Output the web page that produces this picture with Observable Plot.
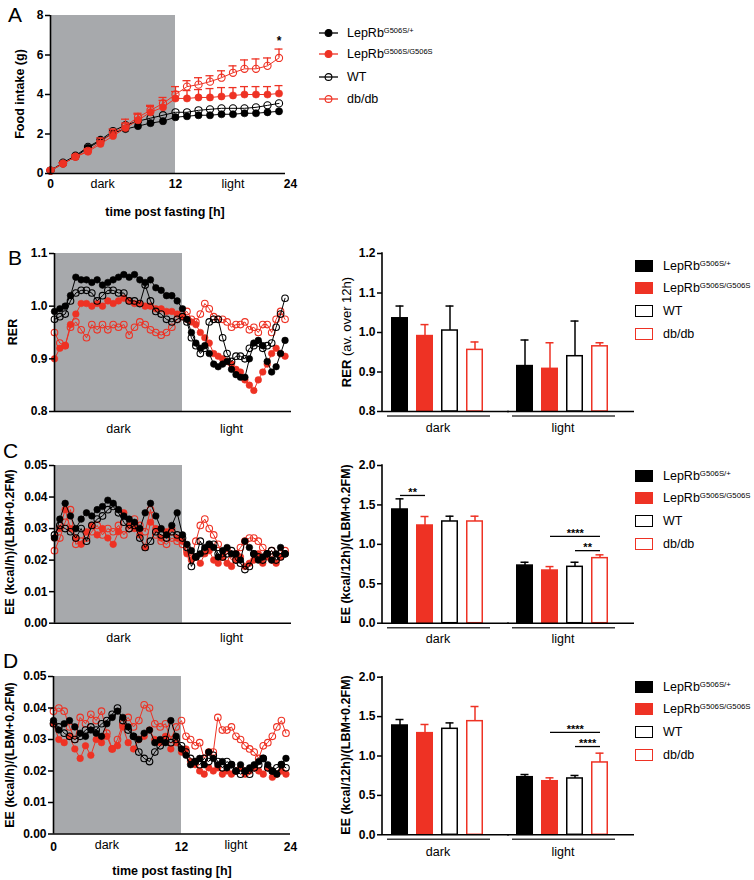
<!DOCTYPE html>
<html>
<head>
<meta charset="utf-8">
<script src="https://cdn.jsdelivr.net/npm/d3@7"></script>
<script src="https://cdn.jsdelivr.net/npm/@observablehq/plot@0.6"></script>
<style>
  body { margin: 0; background: #fff; font-family: "Liberation Sans", Arial, Helvetica, sans-serif; }
  #fig { position: relative; width: 754px; height: 880px; overflow: hidden; background: #fff; }
  .letter { position: absolute; font-size: 21px; line-height: 21px; color: #000; }
  .leg { position: absolute; display: flex; align-items: center; height: 14px; white-space: nowrap; color: #000; }
  .sw { display: inline-block; width: 18px; height: 12px; box-sizing: border-box; margin-right: 10px; }
  .sup { position: relative; top: -4px; }
</style>
</head>
<body>
<div id="fig"></div>
<script>
// ---------------- DATA ----------------
const genotypes = ["het", "hom", "wt", "db"];
const genotypeNames = ["LepRb", "LepRb", "WT", "db/db"];
const genotypeSups = ["G506S/+", "G506S/G506S", "", ""];
const phases = ["dark", "light"];
const darkPhase = [0, 12];
const timeTicks = [0, 12, 24];

// Panel A: cumulative food intake (g)
const foodTime = [0, 1.2, 2.4, 3.6, 4.8, 6, 7.2, 8.4, 9.6, 10.8, 12, 13.2, 14.4, 15.6, 16.8, 18, 19.2, 20.4, 21.6, 22.8];
const foodHet = [0.15, 0.5, 0.85, 1.3, 1.65, 2.05, 2.25, 2.4, 2.55, 2.65, 2.85, 2.9, 2.95, 2.95, 3.0, 3.0, 3.05, 3.05, 3.1, 3.15];
const foodHom = [0.15, 0.5, 0.85, 1.1, 1.5, 1.9, 2.3, 2.7, 3.1, 3.35, 3.8, 3.8, 3.85, 3.85, 3.9, 3.95, 4.0, 4.0, 4.0, 4.05];
const foodWT = [0.15, 0.55, 0.9, 1.35, 1.7, 2.15, 2.45, 2.65, 2.8, 2.95, 3.1, 3.1, 3.2, 3.25, 3.3, 3.3, 3.3, 3.35, 3.45, 3.55];
const foodDb = [0.15, 0.5, 0.85, 1.15, 1.6, 2.05, 2.4, 2.85, 3.2, 3.55, 4.0, 4.4, 4.5, 4.65, 4.85, 5.1, 5.3, 5.3, 5.45, 5.85];
const foodHomErr = [0.05, 0.05, 0.08, 0.1, 0.15, 0.2, 0.25, 0.3, 0.3, 0.35, 0.35, 0.4, 0.4, 0.45, 0.45, 0.4, 0.4, 0.4, 0.4, 0.4];
const foodDbErr = [0.05, 0.05, 0.08, 0.1, 0.2, 0.2, 0.35, 0.2, 0.25, 0.3, 0.4, 0.3, 0.35, 0.3, 0.35, 0.35, 0.45, 0.5, 0.4, 0.45];
const foodSig = [{t: 22.8, y: 6.8, label: "*"}];

// Time axis for panels B-D (h)
const tsTime = [0, 0.5, 1, 1.5, 2, 2.5, 3, 3.5, 4, 4.5, 5, 5.5,
  6, 6.5, 7, 7.5, 8, 8.5, 9, 9.5, 10, 10.5, 11, 11.5,
  12, 12.5, 13, 13.5, 14, 14.5, 15, 15.5, 16, 16.5, 17, 17.5,
  18, 18.5, 19, 19.5, 20, 20.5, 21, 21.5, 22, 22.5, 23, 23.5];

// Panel B: RER
const rerHet = [0.99, 0.995, 1.00, 1.02, 1.055, 1.05, 1.05, 1.045, 1.05, 1.04, 1.045, 1.05,
  1.055, 1.06, 1.055, 1.06, 1.05, 1.045, 1.05, 1.035, 1.03, 1.02, 1.02, 1.01,
  0.995, 0.975, 0.95, 0.93, 0.92, 0.925, 0.91, 0.89, 0.885, 0.89, 0.895, 0.88,
  0.87, 0.865, 0.865, 0.90, 0.93, 0.935, 0.925, 0.895, 0.875, 0.885, 0.91, 0.935];
const rerHom = [0.90, 0.92, 0.925, 0.965, 0.985, 1.005, 1.005, 1.00, 1.005, 1.00, 1.01, 1.005,
  1.01, 1.015, 1.01, 1.005, 1.005, 1.00, 1.00, 0.995, 0.995, 0.99, 0.99, 0.985,
  0.98, 0.975, 0.97, 0.965, 0.95, 0.94, 0.93, 0.91, 0.905, 0.90, 0.895, 0.89,
  0.88, 0.875, 0.86, 0.85, 0.84, 0.86, 0.875, 0.89, 0.91, 0.92, 0.91, 0.905];
const rerWT = [0.975, 0.98, 0.985, 1.01, 1.025, 1.03, 1.03, 1.025, 1.01, 1.02, 1.03, 1.03,
  1.025, 1.025, 1.01, 1.01, 1.005, 1.04, 1.01, 0.99, 0.985, 0.975, 0.97, 0.975,
  0.98, 0.97, 0.94, 0.925, 0.91, 0.92, 0.97, 0.975, 0.975, 0.94, 0.91, 0.895,
  0.905, 0.905, 0.90, 0.92, 0.925, 0.93, 0.92, 0.925, 0.93, 0.96, 0.985, 1.015];
const rerDb = [0.95, 0.93, 0.925, 0.96, 0.97, 0.955, 0.94, 0.965, 0.955, 0.965, 0.955, 0.965,
  0.96, 0.965, 0.945, 0.96, 0.97, 0.965, 0.955, 0.95, 0.945, 0.95, 0.96, 0.975,
  0.985, 0.99, 0.975, 0.97, 0.985, 1.005, 0.995, 0.98, 0.975, 0.975, 0.97, 0.96,
  0.965, 0.965, 0.97, 0.955, 0.96, 0.95, 0.965, 0.965, 0.95, 0.975, 0.99, 0.975];

// Panel C: EE (kcal/h)/(LBM+0.2FM)
const eeCHet = [0.027, 0.033, 0.038, 0.034, 0.030, 0.033, 0.035, 0.034, 0.036, 0.037, 0.039, 0.038,
  0.036, 0.034, 0.033, 0.032, 0.030, 0.035, 0.038, 0.034, 0.030, 0.028, 0.031, 0.035,
  0.028, 0.025, 0.023, 0.021, 0.022, 0.024, 0.025, 0.024, 0.021, 0.023, 0.024, 0.022,
  0.022, 0.020, 0.026, 0.024, 0.022, 0.020, 0.021, 0.022, 0.020, 0.022, 0.024, 0.022];
const eeCHom = [0.027, 0.030, 0.036, 0.030, 0.027, 0.025, 0.029, 0.031, 0.028, 0.030, 0.027, 0.025,
  0.029, 0.035, 0.031, 0.030, 0.028, 0.024, 0.032, 0.030, 0.027, 0.029, 0.030, 0.027,
  0.026, 0.022, 0.020, 0.021, 0.019, 0.022, 0.023, 0.020, 0.019, 0.021, 0.019, 0.018,
  0.020, 0.021, 0.018, 0.019, 0.020, 0.022, 0.019, 0.021, 0.020, 0.019, 0.021, 0.022];
const eeCWT = [0.028, 0.031, 0.030, 0.029, 0.027, 0.030, 0.026, 0.031, 0.033, 0.034, 0.036, 0.037,
  0.035, 0.032, 0.030, 0.031, 0.027, 0.024, 0.026, 0.029, 0.028, 0.027, 0.029, 0.028,
  0.027, 0.024, 0.018, 0.021, 0.026, 0.023, 0.025, 0.025, 0.022, 0.021, 0.022, 0.023,
  0.020, 0.019, 0.017, 0.018, 0.022, 0.021, 0.020, 0.022, 0.023, 0.020, 0.021, 0.022];
const eeCDb = [0.023, 0.027, 0.032, 0.036, 0.025, 0.026, 0.027, 0.029, 0.031, 0.028, 0.030, 0.029,
  0.031, 0.028, 0.030, 0.033, 0.031, 0.029, 0.036, 0.028, 0.026, 0.025, 0.027, 0.026,
  0.025, 0.023, 0.021, 0.026, 0.031, 0.033, 0.030, 0.028, 0.025, 0.021, 0.023, 0.020,
  0.022, 0.024, 0.026, 0.027, 0.027, 0.026, 0.024, 0.022, 0.023, 0.021, 0.022, 0.023];

// Panel D: EE (kcal/h)/(LBM+0.2FM)
const eeDHet = [0.036, 0.033, 0.035, 0.036, 0.034, 0.032, 0.031, 0.033, 0.032, 0.031, 0.035, 0.037,
  0.039, 0.037, 0.034, 0.031, 0.030, 0.032, 0.033, 0.029, 0.030, 0.029, 0.036, 0.031,
  0.027, 0.025, 0.022, 0.023, 0.024, 0.022, 0.026, 0.024, 0.022, 0.023, 0.021, 0.022,
  0.020, 0.022, 0.020, 0.021, 0.022, 0.023, 0.024, 0.022, 0.020, 0.019, 0.022, 0.024];
const eeDHom = [0.035, 0.030, 0.029, 0.031, 0.027, 0.024, 0.028, 0.025, 0.030, 0.029, 0.031, 0.027,
  0.028, 0.034, 0.029, 0.027, 0.030, 0.031, 0.033, 0.030, 0.029, 0.031, 0.027, 0.029,
  0.026, 0.027, 0.023, 0.022, 0.020, 0.019, 0.021, 0.020, 0.021, 0.019, 0.020, 0.019,
  0.020, 0.021, 0.019, 0.020, 0.021, 0.020, 0.019, 0.021, 0.018, 0.019, 0.020, 0.019];
const eeDWT = [0.035, 0.034, 0.032, 0.031, 0.030, 0.031, 0.033, 0.034, 0.033, 0.035, 0.036, 0.038,
  0.040, 0.036, 0.033, 0.031, 0.026, 0.024, 0.023, 0.026, 0.028, 0.030, 0.029, 0.030,
  0.028, 0.026, 0.024, 0.023, 0.022, 0.024, 0.023, 0.025, 0.023, 0.021, 0.023, 0.022,
  0.020, 0.019, 0.020, 0.019, 0.021, 0.022, 0.024, 0.021, 0.020, 0.021, 0.022, 0.021];
const eeDDb = [0.039, 0.040, 0.039, 0.034, 0.030, 0.037, 0.035, 0.038, 0.036, 0.039, 0.032, 0.027,
  0.030, 0.035, 0.037, 0.034, 0.036, 0.041, 0.040, 0.035, 0.034, 0.035, 0.030, 0.034,
  0.036, 0.031, 0.030, 0.028, 0.029, 0.024, 0.026, 0.026, 0.037, 0.033, 0.033, 0.034,
  0.031, 0.030, 0.028, 0.027, 0.026, 0.024, 0.028, 0.029, 0.031, 0.034, 0.036, 0.032];

// Bar charts (mean, SEM) in genotype order
const rerDarkMean = [1.036, 0.991, 1.005, 0.956];
const rerDarkErr = [0.031, 0.029, 0.062, 0.020];
const rerLightMean = [0.915, 0.908, 0.940, 0.965];
const rerLightErr = [0.066, 0.066, 0.089, 0.009];
const eeCDarkMean = [1.442, 1.239, 1.290, 1.290];
const eeCDarkErr = [0.135, 0.114, 0.067, 0.067];
const eeCLightMean = [0.731, 0.668, 0.715, 0.825];
const eeCLightErr = [0.042, 0.050, 0.058, 0.042];
const eeDDarkMean = [1.387, 1.290, 1.345, 1.442];
const eeDDarkErr = [0.076, 0.110, 0.075, 0.186];
const eeDLightMean = [0.731, 0.680, 0.715, 0.918];
const eeDLightErr = [0.034, 0.043, 0.038, 0.118];
const sigC = [
  {phase: "dark", from: "het", to: "hom", y: 1.62, label: "**"},
  {phase: "light", from: "hom", to: "db", y: 1.10, label: "****"},
  {phase: "light", from: "wt", to: "db", y: 0.92, label: "**"}
];
const sigD = [
  {phase: "light", from: "hom", to: "db", y: 1.30, label: "****"},
  {phase: "light", from: "wt", to: "db", y: 1.12, label: "****"}
];

// ---------------- STYLE ----------------
const FONT = '"Liberation Sans", Arial, Helvetica, sans-serif';
const RED = "#ee3224", BLACK = "#000000", GRAY = "#a7a9ac";
const colors = [BLACK, RED, BLACK, RED];
const filled = [true, true, false, false];
const fig = document.getElementById("fig");

function place(el, left, top) {
  el.style.position = "absolute";
  el.style.left = left + "px";
  el.style.top = top + "px";
  fig.appendChild(el);
}

function svgText(svg, {x, y, text, size = 12.5, weight = "bold", rotate = 0, parts}) {
  const t = d3.select(svg).append("text")
    .attr("transform", `translate(${x},${y}) rotate(${rotate})`)
    .attr("text-anchor", "middle")
    .attr("dominant-baseline", "central")
    .attr("font-family", FONT)
    .attr("font-size", size)
    .attr("font-weight", weight)
    .attr("fill", "#000");
  if (parts) parts.forEach(p => t.append("tspan").attr("font-weight", p.weight).text(p.text));
  else t.text(text);
}

function letter(ch, left, top) {
  const d = document.createElement("div");
  d.className = "letter";
  d.textContent = ch;
  place(d, left, top);
}

// ---------------- LINE PANELS ----------------
function linePanel(cfg) {
  const {top, height, marginTop, marginBottom, frameRight, xRange, time, arrays, errs, order,
    yDomain, yTicks, yFormat, r, xAxis, xTickPad, phaseLabels, phaseDy, yTitle, xTitle, sig} = cfg;
  const W = 300;
  const marks = [
    Plot.rect([darkPhase], {x1: d => d[0], x2: d => d[1], y1: yDomain[0], y2: yDomain[1], fill: GRAY})
  ];
  for (const g of order) {
    const k = genotypes.indexOf(g);
    const data = time.map((t, i) => ({t, v: arrays[k][i], e: errs && errs[k] ? errs[k][i] : 0}));
    if (errs && errs[k]) {
      marks.push(Plot.ruleX(data, {x: "t", y1: "v", y2: d => d.v + d.e, stroke: colors[k], strokeWidth: 1.3}));
      marks.push(Plot.ruleY(data, {x1: "t", x2: "t", y: d => d.v + d.e, stroke: colors[k], strokeWidth: 1.3, insetLeft: -4, insetRight: -4}));
    }
    marks.push(Plot.line(data, {x: "t", y: "v", stroke: colors[k], strokeWidth: 1}));
    marks.push(Plot.dot(data, {x: "t", y: "v", r, fill: filled[k] ? colors[k] : "none", stroke: colors[k], strokeWidth: filled[k] ? 0.6 : 1.1}));
  }
  marks.push(
    Plot.ruleX([0], {stroke: "#000", strokeWidth: 1.6}),
    Plot.ruleY([yDomain[0]], {stroke: "#000", strokeWidth: 1.6}),
    Plot.axisY({ticks: yTicks, tickFormat: yFormat, tickSize: 5, tickPadding: 2, fontSize: 12, fontWeight: "bold", strokeWidth: 1.5, label: null}),
    Plot.text(phaseLabels, {x: "t", text: "label", frameAnchor: "bottom", dy: phaseDy, lineAnchor: "middle", fontSize: 12.5})
  );
  if (xAxis) marks.push(Plot.axisX({ticks: timeTicks, tickSize: 0, tickPadding: xTickPad, fontSize: 12, fontWeight: "bold", label: null}));
  if (sig) marks.push(Plot.text(sig, {x: "t", y: "y", text: "label", fontSize: 12, fontWeight: "bold", lineAnchor: "middle", dy: 2}));
  const plot = Plot.plot({
    width: W, height,
    marginLeft: xRange[0], marginRight: W - frameRight, marginTop, marginBottom,
    style: {fontFamily: FONT, fontSize: "12.5px", background: "transparent", color: "#000", overflow: "visible"},
    x: {type: "linear", domain: [0, 12, 24], range: xRange, axis: null},
    y: {domain: yDomain, axis: null},
    marks
  });
  svgText(plot, yTitle);
  if (xTitle) svgText(plot, xTitle);
  place(plot, 0, top);
}

// ---------------- BAR PANELS ----------------
const BAR_W = 300, BAR_ML = 52, BAR_MR = 12, BAR_LEFT = 330;
const FX_PAD = 0.112, X_PAD_IN = 0.31, X_PAD_OUT = 0.35;
function barPanel(cfg) {
  const {top, height, marginTop, marginBottom, means, errs, yDomain, yTicks, yFormat, fxPad, sig, yTitle} = cfg;
  const table = [];
  phases.forEach((p, pi) => genotypes.forEach((g, k) =>
    table.push({phase: p, g, k, mean: means[pi][k], top: means[pi][k] + errs[pi][k]})));
  const fxStep = (BAR_W - BAR_ML - BAR_MR) / (2 - FX_PAD);
  const xStep = fxStep * (1 - FX_PAD) / (4 - X_PAD_IN + 2 * X_PAD_OUT);
  const marks = [
    Plot.ruleX(table, {fx: "phase", x: "g", y1: "mean", y2: "top", stroke: d => colors[d.k], strokeWidth: 1.5}),
    Plot.tickY(table, {fx: "phase", x: "g", y: "top", stroke: d => colors[d.k], strokeWidth: 1.5, insetLeft: 4.5, insetRight: 4.5}),
    Plot.barY(table, {fx: "phase", x: "g", y1: yDomain[0], y2: "mean",
      fill: d => filled[d.k] ? colors[d.k] : "#ffffff", stroke: d => colors[d.k], strokeWidth: 1.5,
      insetLeft: 0.75, insetRight: 0.75}),
    Plot.ruleY([yDomain[0]], {stroke: "#000", strokeWidth: 1.6, insetRight: -16}),
    Plot.ruleY([yDomain[0]], {stroke: "#3a3a3a", strokeWidth: 1.5, dy: 4.5, insetLeft: 5, insetRight: 3}),
    Plot.axisY({ticks: yTicks, tickFormat: yFormat, tickSize: 5, tickPadding: 2, fontSize: 12, fontWeight: "bold", strokeWidth: 1.5, label: null})
  ];
  for (const s of sig || []) {
    const dx = (genotypes.indexOf(s.to) - genotypes.indexOf(s.from)) * xStep / 2;
    marks.push(Plot.link([s], {fx: "phase", x1: "from", x2: "to", y1: "y", y2: "y", stroke: "#000", strokeWidth: 1.3}));
    marks.push(Plot.text([s], {fx: "phase", x: "from", y: "y", text: "label", dx, dy: -3, lineAnchor: "middle", fontSize: 11, fontWeight: "bold"}));
  }
  const plot = Plot.plot({
    width: BAR_W, height,
    marginLeft: BAR_ML, marginRight: BAR_MR, marginTop, marginBottom,
    style: {fontFamily: FONT, fontSize: "12.5px", background: "transparent", color: "#000", overflow: "visible"},
    fx: {domain: phases, paddingInner: FX_PAD, paddingOuter: 0, axis: "bottom", tickSize: 0, tickPadding: fxPad, label: null},
    x: {domain: genotypes, paddingInner: X_PAD_IN, paddingOuter: X_PAD_OUT, axis: null},
    y: {domain: yDomain, axis: null},
    color: {type: "identity"},
    marks
  });
  const ys = plot.scale("y");
  d3.select(plot).append("line")
    .attr("x1", BAR_ML).attr("x2", BAR_ML)
    .attr("y1", ys.apply(yDomain[1]) - 0.75).attr("y2", ys.apply(yDomain[0]) + 0.75)
    .attr("stroke", "#000").attr("stroke-width", 1.6);
  svgText(plot, yTitle);
  place(plot, BAR_LEFT, top);
}

// ---------------- LEGENDS ----------------
function barLegend(rowCenters) {
  genotypes.forEach((g, k) => {
    const row = document.createElement("div");
    row.className = "leg";
    row.style.fontSize = "12.5px";
    const sup = genotypeSups[k] ? `<span class="sup" style="font-size:7.8px">${genotypeSups[k]}</span>` : "";
    row.innerHTML = `<span class="sw" style="background:${filled[k] ? colors[k] : "#fff"};border:1.5px solid ${colors[k]}"></span><span>${genotypeNames[k]}${sup}</span>`;
    place(row, 635, rowCenters[k] - 7);
  });
}
function lineLegend(rowCenters) {
  genotypes.forEach((g, k) => {
    const row = document.createElement("div");
    row.className = "leg";
    row.style.fontSize = "12.5px";
    const sup = genotypeSups[k] ? `<span class="sup" style="font-size:7.5px">${genotypeSups[k]}</span>` : "";
    row.innerHTML = `<svg width="20" height="10" style="margin-right:8px;overflow:visible"><line x1="0" x2="19" y1="5" y2="5" stroke="${colors[k]}" stroke-width="1.3"></line><circle cx="9.5" cy="5" r="3.4" fill="${filled[k] ? colors[k] : "none"}" stroke="${colors[k]}" stroke-width="1.1"></circle></svg><span>${genotypeNames[k]}${sup}</span>`;
    place(row, 319, rowCenters[k] - 7);
  });
}

// ---------------- BUILD ----------------
const fmt1 = d3.format(".1f"), fmt2 = d3.format(".2f"), fmt0 = d3.format("d");

// A
linePanel({
  top: 0, height: 225, marginTop: 15, marginBottom: 52, frameRight: 285, xRange: [50, 175, 290],
  time: foodTime, arrays: [foodHet, foodHom, foodWT, foodDb], errs: [null, foodHomErr, null, foodDbErr],
  order: ["het", "wt", "hom", "db"],
  yDomain: [0, 8], yTicks: [0, 2, 4, 6, 8], yFormat: fmt0, r: 3.6,
  xAxis: true, xTickPad: 6,
  phaseLabels: [{label: "dark", t: 5}, {label: "light", t: 18}], phaseDy: 10,
  yTitle: {x: 20, y: 94, text: "Food intake (g)", rotate: -90},
  xTitle: {x: 165, y: 212, text: "time post fasting [h]"},
  sig: foodSig
});
lineLegend([33, 54, 77, 99]);
letter("A", 8, 4);

// B
linePanel({
  top: 235, height: 205, marginTop: 18, marginBottom: 29, frameRight: 291, xRange: [54, 182, 289],
  time: tsTime, arrays: [rerHet, rerHom, rerWT, rerDb], order: ["db", "hom", "wt", "het"],
  yDomain: [0.8, 1.1], yTicks: [0.8, 0.9, 1.0, 1.1], yFormat: fmt1, r: 3.3,
  xAxis: false,
  phaseLabels: [{label: "dark", t: 6}, {label: "light", t: 17.5}], phaseDy: 17,
  yTitle: {x: 13, y: 97, text: "RER", rotate: -90}
});
barPanel({
  top: 235, height: 205, marginTop: 18, marginBottom: 29,
  means: [rerDarkMean, rerLightMean], errs: [rerDarkErr, rerLightErr],
  yDomain: [0.8, 1.2], yTicks: [0.8, 0.9, 1.0, 1.1, 1.2], yFormat: fmt1, fxPad: 12,
  yTitle: {x: 16, y: 97, rotate: -90, size: 13, parts: [{text: "RER ", weight: "bold"}, {text: "(av. over 12h)", weight: "normal"}]}
});
barLegend([266, 288, 311, 334]);
letter("B", 8, 247);

// C
linePanel({
  top: 445, height: 205, marginTop: 20, marginBottom: 27.3, frameRight: 291, xRange: [54, 182, 289],
  time: tsTime, arrays: [eeCHet, eeCHom, eeCWT, eeCDb], order: ["db", "hom", "wt", "het"],
  yDomain: [0, 0.05], yTicks: [0, 0.01, 0.02, 0.03, 0.04, 0.05], yFormat: fmt2, r: 3.3,
  xAxis: false,
  phaseLabels: [{label: "dark", t: 6}, {label: "light", t: 17.5}], phaseDy: 15,
  yTitle: {x: 10, y: 97, text: "EE (kcal/h)/(LBM+0.2FM)", rotate: -90}
});
barPanel({
  top: 445, height: 205, marginTop: 20, marginBottom: 27.3,
  means: [eeCDarkMean, eeCLightMean], errs: [eeCDarkErr, eeCLightErr],
  yDomain: [0, 2], yTicks: [0, 0.5, 1.0, 1.5, 2.0], yFormat: fmt1, fxPad: 11, sig: sigC,
  yTitle: {x: 16, y: 99, text: "EE (kcal/12h)/(LBM+0.2FM)", rotate: -90}
});
barLegend([476, 498, 521, 544]);
letter("C", 3, 440);

// D
linePanel({
  top: 658, height: 222, marginTop: 18, marginBottom: 46.5, frameRight: 290, xRange: [53, 181, 290],
  time: tsTime, arrays: [eeDHet, eeDHom, eeDWT, eeDDb], order: ["db", "hom", "wt", "het"],
  yDomain: [0, 0.05], yTicks: [0, 0.01, 0.02, 0.03, 0.04, 0.05], yFormat: fmt2, r: 3.3,
  xAxis: true, xTickPad: 8,
  phaseLabels: [{label: "dark", t: 5}, {label: "light", t: 18}], phaseDy: 10.5,
  yTitle: {x: 10, y: 97, text: "EE (kcal/h)/(LBM+0.2FM)", rotate: -90},
  xTitle: {x: 172, y: 213, text: "time post fasting [h]"}
});
barPanel({
  top: 658, height: 222, marginTop: 18.7, marginBottom: 45.7,
  means: [eeDDarkMean, eeDLightMean], errs: [eeDDarkErr, eeDLightErr],
  yDomain: [0, 2], yTicks: [0, 0.5, 1.0, 1.5, 2.0], yFormat: fmt1, fxPad: 12, sig: sigD,
  yTitle: {x: 16, y: 97, text: "EE (kcal/12h)/(LBM+0.2FM)", rotate: -90}
});
barLegend([687, 709, 732, 755]);
letter("D", 3, 650);
</script>
</body>
</html>
